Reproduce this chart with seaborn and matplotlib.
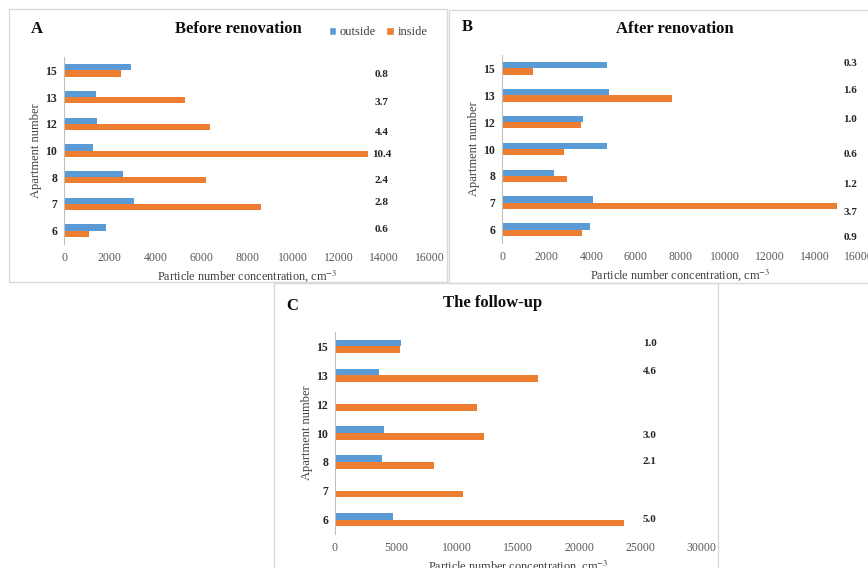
import numpy as np
import pandas as pd
import matplotlib
matplotlib.use("Agg")
import matplotlib.pyplot as plt
import seaborn as sns
from matplotlib.patches import Rectangle, Patch

sns.set_theme(style="white")
plt.rcParams["font.family"] = ["Liberation Serif", "DejaVu Serif"]
plt.rcParams["mathtext.fontset"] = "stix"

# Apartment numbers, listed top to bottom
apartments = ["15", "13", "12", "10", "8", "7", "6"]
series = ["outside", "inside"]

# Particle number concentration (cm^-3)
before_outside = [2950, 1400, 1450, 1280, 2600, 3050, 1850]
before_inside = [2480, 5300, 6400, 13300, 6200, 8600, 1100]
before_ratio = ["0.8", "3.7", "4.4", "10.4", "2.4", "2.8", "0.6"]

after_outside = [4700, 4800, 3650, 4700, 2350, 4080, 3950]
after_inside = [1400, 7600, 3550, 2800, 2900, 15000, 3600]
after_ratio = ["0.3", "1.6", "1.0", "0.6", "1.2", "3.7", "0.9"]

followup_outside = [5400, 3600, np.nan, 4000, 3850, np.nan, 4750]
followup_inside = [5350, 16600, 11600, 12200, 8100, 10500, 23700]
followup_ratio = ["1.0", "4.6", "", "3.0", "2.1", "", "5.0"]

colors = {"outside": "#5B9BD5", "inside": "#ED7D31"}
W, H = 868, 568


def frac_box(x0, y0, x1, y1):
    """pixel box (top-left origin) -> figure-fraction [left, bottom, width, height]"""
    return [x0 / W, 1 - y1 / H, (x1 - x0) / W, (y1 - y0) / H]


def long_frame(outside, inside):
    return pd.DataFrame({
        "apartment": apartments * 2,
        "value": list(outside) + list(inside),
        "where": ["outside"] * len(apartments) + ["inside"] * len(apartments),
    })


fig = plt.figure(figsize=(W / 100, H / 100), dpi=100)

# panel frames
frame_kw = dict(transform=fig.transFigure, fill=False, edgecolor="#d9d9d9", linewidth=1.0)
for x0, y0, x1, y1 in [(9, 9, 447, 282), (449, 10, 880, 283), (274, 283, 718, 590)]:
    l, b, w, h = frac_box(x0, y0, x1, y1)
    fig.patches.append(Rectangle((l, b), w, h, **frame_kw))

panels = [
    dict(box=(64, 57, 430, 244), out=before_outside, ins=before_inside, ratio=before_ratio,
         xmax=16000, step=2000, lab_x=13900,
         lab_off=[-0.15, -0.22, -0.33, -0.15, -0.11, 0.04, 0.04],
         title="Before renovation", title_xy=(238, 29), letter="A", letter_xy=(37, 29)),
    dict(box=(502, 55, 859, 243), out=after_outside, ins=after_inside, ratio=after_ratio,
         xmax=16000, step=2000, lab_x=15600,
         lab_off=[0.19, 0.19, 0.10, -0.20, -0.31, -0.36, -0.30],
         title="After renovation", title_xy=(675, 29), letter="B", letter_xy=(467, 27)),
    dict(box=(335, 332, 701, 534), out=followup_outside, ins=followup_inside, ratio=followup_ratio,
         xmax=30000, step=5000, lab_x=25800,
         lab_off=[0.09, 0.12, 0.0, -0.08, 0.0, 0.0, 0.0],
         title="The follow-up", title_xy=(493, 303), letter="C", letter_xy=(292, 306)),
]

for i, p in enumerate(panels):
    ax = fig.add_axes(frac_box(*p["box"]))
    df = long_frame(p["out"], p["ins"])
    sns.barplot(data=df, x="value", y="apartment", hue="where", order=apartments,
                hue_order=series, palette=colors, saturation=1, orient="h", width=0.47,
                errorbar=None, linewidth=0, ax=ax)
    ax.set_facecolor("none")
    ax.set_xlim(0, p["xmax"])
    ax.set_ylim(len(apartments) - 0.5, -0.5)
    ticks = np.arange(0, p["xmax"] + 1, p["step"])
    ax.set_xticks(ticks)
    ax.set_xticklabels([str(v) for v in ticks], fontsize=8.5, color="#595959")
    ax.set_yticks(range(len(apartments)))
    ax.set_yticklabels(apartments, fontsize=8.5, fontweight="bold", color="#262626")
    ax.tick_params(axis="both", length=0)
    ax.tick_params(axis="x", pad=6)
    ax.tick_params(axis="y", pad=5)
    for s in ["top", "right", "bottom"]:
        ax.spines[s].set_visible(False)
    ax.spines["left"].set_color("#bfbfbf")
    ax.spines["left"].set_linewidth(0.8)
    ax.grid(False)
    ax.set_xlabel(r"Particle number concentration, cm$^{-3}$", fontsize=8.8,
                  color="#404040", labelpad=3)
    ax.set_ylabel("Apartment number", fontsize=9, color="#404040")
    ax.yaxis.set_label_coords(-22 / (p["box"][2] - p["box"][0]), 0.5)

    # inside/outside ratio labels
    for j, (txt, off) in enumerate(zip(p["ratio"], p["lab_off"])):
        if txt:
            ax.text(p["lab_x"], j - off, txt, ha="center", va="center", fontsize=8,
                    fontweight="bold", color="#262626", clip_on=False)

    fig.text(p["title_xy"][0] / W, 1 - p["title_xy"][1] / H, p["title"], ha="center",
             va="center", fontsize=12, fontweight="bold", color="#0d0d0d")
    fig.text(p["letter_xy"][0] / W, 1 - p["letter_xy"][1] / H, p["letter"], ha="center",
             va="center", fontsize=12, fontweight="bold", color="#0d0d0d")

    if i == 0:
        handles = [Patch(facecolor=colors[s]) for s in series]
        ax.legend(handles, series, ncol=2, frameon=False, loc="center",
                  bbox_to_anchor=(378 / W, 1 - 32 / H), bbox_transform=fig.transFigure,
                  handlelength=0.6, handleheight=0.6, handletextpad=0.3,
                  columnspacing=0.8, fontsize=9, labelcolor="#404040")
    else:
        leg = ax.get_legend()
        if leg is not None:
            leg.remove()

fig.savefig("out.png", dpi=100, facecolor="white")
